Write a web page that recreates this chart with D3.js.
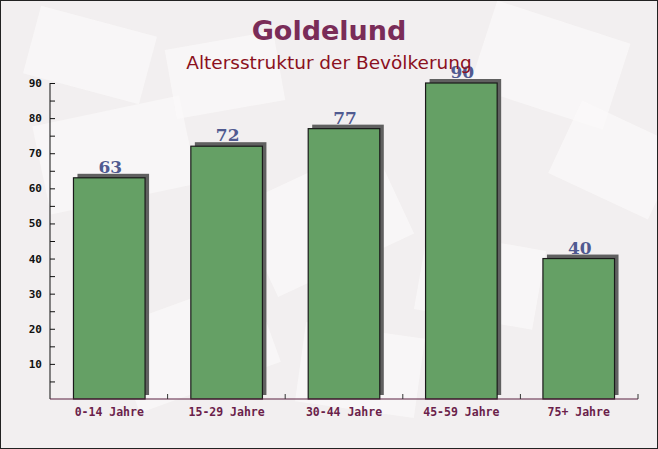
<!DOCTYPE html>
<html><head><meta charset="utf-8">
<script src="https://cdn.jsdelivr.net/npm/d3@7/dist/d3.min.js"></script>
<style>body{margin:0;padding:0;}svg{display:block;}</style>
</head><body>
<script>
const categories = ["0-14 Jahre", "15-29 Jahre", "30-44 Jahre", "45-59 Jahre", "75+ Jahre"];
const values = [63, 72, 77, 90, 40];
const yTicks = [10, 20, 30, 40, 50, 60, 70, 80, 90];
const titleText = "Goldelund";
const subtitleText = "Altersstruktur der Bevölkerung";

const W = 658, H = 449;
const svg = d3.select("body").append("svg").attr("width", W).attr("height", H);

// background
svg.append("rect").attr("width", W).attr("height", H).attr("fill", "#f2eff0");
const deco = [[40,110,150,90,-12],[480,20,140,90,18],[250,170,150,100,-25],[420,240,120,80,10],[120,300,150,90,-20],[560,120,110,80,25],[30,20,120,70,15],[300,330,120,80,8],[170,40,110,70,-10]];
svg.append("g").selectAll("rect").data(deco).join("rect")
  .attr("x", d => d[0]).attr("y", d => d[1]).attr("width", d => d[2]).attr("height", d => d[3])
  .attr("transform", d => `rotate(${d[4]},${d[0]+d[2]/2},${d[1]+d[3]/2})`)
  .attr("fill", "#fbfafa").attr("opacity", 0.7);

const x = d3.scaleBand().domain(categories).range([50, 638]).paddingInner(0.39).paddingOuter(0.2);
const y = d3.scaleLinear().domain([0, 90]).range([399, 83]);

// bars shadow
const g = svg.append("g");
g.selectAll("rect.sh").data(values).join("rect").attr("class", "sh")
  .attr("x", (d, i) => x(categories[i]) + 4).attr("y", d => y(d) - 4)
  .attr("width", x.bandwidth()).attr("height", d => y(0) - y(d))
  .attr("fill", "#606060");
g.selectAll("rect.bar").data(values).join("rect").attr("class", "bar")
  .attr("x", (d, i) => x(categories[i])).attr("y", d => y(d))
  .attr("width", x.bandwidth()).attr("height", d => y(0) - y(d))
  .attr("fill", "#65a065").attr("stroke", "#1a1a1a").attr("stroke-width", 1.2);

// value labels
g.selectAll("text.val").data(values).join("text").attr("class", "val")
  .attr("x", (d, i) => x(categories[i]) + x.bandwidth() / 2 + 1).attr("y", d => y(d) - 5)
  .attr("text-anchor", "middle").attr("font-family", "DejaVu Serif, serif").attr("font-weight", "bold")
  .attr("font-size", 17).attr("fill", "#505a90").text(d => d);

// y axis
const yAxis = d3.axisLeft(y).tickValues(d3.range(5, 91, 5)).tickSize(-5).tickPadding(8)
  .tickFormat(d => yTicks.includes(d) ? d : "");
const ya = svg.append("g").attr("transform", "translate(50,0)").call(yAxis);
ya.select(".domain").attr("stroke", "#111").attr("d", "M0,83V399");
ya.selectAll(".tick line").attr("stroke", "#111");
ya.selectAll(".tick text").attr("font-family", "DejaVu Sans Mono, monospace").attr("font-weight", "bold")
  .attr("font-size", 11).attr("fill", "#111");

// x axis
const xa = svg.append("g").attr("transform", "translate(0,399)");
xa.append("line").attr("x1", 50).attr("x2", 638).attr("stroke", "#5a2040");
const bounds = d3.range(1, categories.length + 1).map(i => 50 + (588 / categories.length) * i);
xa.selectAll("line.t").data(bounds).join("line").attr("class", "t")
  .attr("x1", d => d).attr("x2", d => d).attr("y1", 0).attr("y2", -5).attr("stroke", "#333");
xa.selectAll("text").data(categories).join("text")
  .attr("x", d => x(d) + x.bandwidth() / 2).attr("y", 17).attr("text-anchor", "middle")
  .attr("font-family", "DejaVu Sans Mono, monospace").attr("font-weight", "bold").attr("font-size", 11.5)
  .attr("fill", "#6b1f4b").text(d => d);

// titles
svg.append("text").attr("x", 329).attr("y", 40).attr("text-anchor", "middle")
  .attr("font-family", "DejaVu Sans, sans-serif").attr("font-weight", "bold").attr("font-size", 27)
  .attr("fill", "#7a2c58").text(titleText);
svg.append("text").attr("x", 329).attr("y", 69).attr("text-anchor", "middle")
  .attr("font-family", "DejaVu Sans, sans-serif").attr("font-size", 18.5)
  .attr("fill", "#8b1020").text(subtitleText);

// border
svg.append("rect").attr("x", 0.5).attr("y", 0.5).attr("width", W - 1).attr("height", H - 1)
  .attr("fill", "none").attr("stroke", "#222");
</script>
</body></html>
